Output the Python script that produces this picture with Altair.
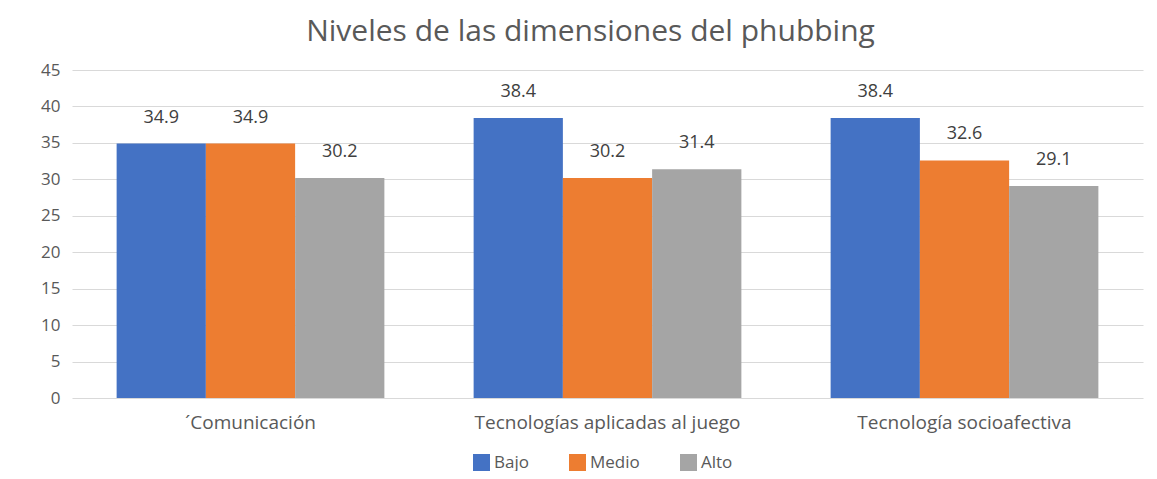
import altair as alt
import pandas as pd

# ---- data ----
categories = ["´Comunicación", "Tecnologías aplicadas al juego", "Tecnología socioafectiva"]
series = ["Bajo", "Medio", "Alto"]
bajo = [34.9, 38.4, 38.4]
medio = [34.9, 30.2, 32.6]
alto = [30.2, 31.4, 29.1]
colors = ["#4472C4", "#ED7D31", "#A5A5A5"]
y_ticks = [0, 5, 10, 15, 20, 25, 30, 35, 40, 45]
title_text = "Niveles de las dimensiones del phubbing"

rows = []
for i, c in enumerate(categories):
    for s, vals in zip(series, [bajo, medio, alto]):
        rows.append({"cat": c, "serie": s, "valor": vals[i]})
df = pd.DataFrame(rows)

FONT = "Open Sans"
TXT = "#595959"

base = alt.Chart(df).encode(
    x=alt.X(
        "cat:N", sort=categories, title=None,
        scale=alt.Scale(paddingInner=0.25, paddingOuter=0.125),
        axis=alt.Axis(labelAngle=0, labelFont=FONT, labelFontSize=19, labelColor=TXT,
                      labelPadding=15, labelLimit=0, ticks=False, domain=False, grid=False),
    ),
    xOffset=alt.XOffset("serie:N", sort=series, scale=alt.Scale(paddingInner=0, paddingOuter=0)),
    y=alt.Y(
        "valor:Q", title=None,
        scale=alt.Scale(domain=[0, 45], nice=False),
        axis=alt.Axis(values=y_ticks, labelFont=FONT, labelFontSize=17, labelColor=TXT,
                      labelPadding=12, ticks=False, domain=False, grid=True,
                      gridColor="#d9d9d9", gridWidth=1),
    ),
)

bars = base.mark_bar().encode(
    color=alt.Color(
        "serie:N", sort=series,
        scale=alt.Scale(domain=series, range=colors),
        legend=alt.Legend(title=None, orient="none", legendX=401, legendY=384,
                          direction="horizontal", padding=0,
                          symbolType="square", symbolSize=289, symbolStrokeWidth=0,
                          labelFont=FONT, labelFontSize=17, labelColor=TXT,
                          labelOffset=4, columnPadding=40),
    )
)

labels = base.mark_text(dy=-26, font=FONT, fontSize=18, color="#404040").encode(
    text=alt.Text("valor:Q", format=".1f")
)

chart = alt.layer(bars, labels).properties(
    width=1071,
    height=328,
    title=alt.TitleParams(title_text, font=FONT, fontSize=30, fontWeight="normal",
                          color=TXT, anchor="middle", offset=14, dx=-17),
    autosize=alt.AutoSizeParams(type="none"),
    padding={"left": 64, "top": 62, "right": 6, "bottom": 73},
    background="white",
).configure_view(stroke=None)

chart.save("out.html", embed_options={"renderer": "svg", "actions": False})
